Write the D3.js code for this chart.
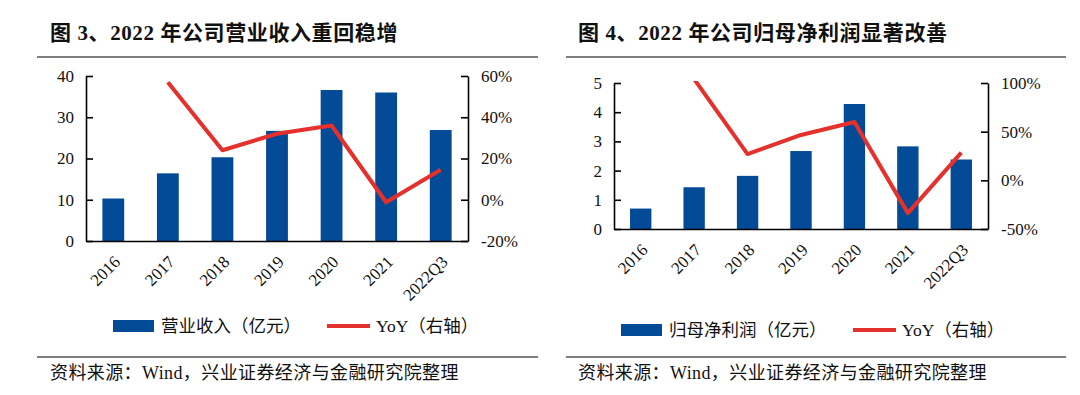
<!DOCTYPE html>
<html>
<head>
<meta charset="utf-8">
<script src="https://cdn.jsdelivr.net/npm/d3@7"></script>
<style>
  body { margin: 0; background: #fff; }
  svg text { fill: #111; }
</style>
</head>
<body>
<div id="chart"></div>
<script>
// data
const categories = ["2016", "2017", "2018", "2019", "2020", "2021", "2022Q3"];
const revenue = [10.3, 16.4, 20.3, 26.7, 36.6, 36.0, 26.9];
const revenueYoY = [null, 0.57, 0.24, 0.32, 0.36, -0.012, 0.145];
const profit = [0.7, 1.43, 1.82, 2.67, 4.28, 2.83, 2.38];
const profitYoY = [null, 1.04, 0.27, 0.466, 0.6, -0.337, 0.284];
const revenueTicks = [0, 10, 20, 30, 40];
const revenueYoYTicks = [-0.2, 0, 0.2, 0.4, 0.6];
const profitTicks = [0, 1, 2, 3, 4, 5];
const profitYoYTicks = [-0.5, 0, 0.5, 1.0];

const BLUE = "#034b96";
const RED = "#e5302c";
const LATIN = "'Liberation Serif', 'Times New Roman', serif";
const CJK = "'Liberation Serif', 'Noto Sans CJK SC', serif";

const svg = d3.select("#chart")
  .append("svg")
  .attr("width", 1080)
  .attr("height", 395);

function drawPanel(p) {
  const g = svg.append("g").attr("transform", `translate(${p.ox}, 0)`);

  // title + rules
  g.append("text")
    .attr("x", p.titleX).attr("y", 40)
    .attr("font-family", CJK).attr("font-weight", "bold")
    .attr("font-size", 21)
    .attr("letter-spacing", 0.6)
    .text(p.title);
  g.append("line")
    .attr("x1", p.ruleX1).attr("x2", p.ruleX2)
    .attr("y1", 57).attr("y2", 57)
    .attr("stroke", "#555").attr("stroke-width", 1.5);
  g.append("line")
    .attr("x1", p.ruleX1).attr("x2", p.ruleX2)
    .attr("y1", 357).attr("y2", 357)
    .attr("stroke", "#555").attr("stroke-width", 1.5);
  g.append("text")
    .attr("x", p.titleX).attr("y", 379)
    .attr("font-family", CJK).attr("font-size", 18)
    .attr("letter-spacing", 0.4)
    .text("资料来源：Wind，兴业证券经济与金融研究院整理");

  const x = d3.scaleBand()
    .domain(categories)
    .range([p.left, p.right])
    .paddingInner(0.6)
    .paddingOuter(0.3);
  const y = d3.scaleLinear().domain(p.yDomain).range([p.bottom, p.top]);
  const y2 = d3.scaleLinear().domain(p.y2Domain).range([p.bottom, p.top]);

  // bars
  g.selectAll("rect.bar")
    .data(p.bars)
    .enter()
    .append("rect")
    .attr("class", "bar")
    .attr("x", (d, i) => x(categories[i]))
    .attr("width", x.bandwidth())
    .attr("y", d => y(d))
    .attr("height", d => p.bottom - y(d))
    .attr("fill", BLUE);

  // axes
  const yAxis = d3.axisLeft(y)
    .tickValues(p.yTicks)
    .tickSizeInner(-7).tickSizeOuter(0).tickPadding(12)
    .tickFormat(d3.format("d"));
  const yAxisGroup = g.append("g")
    .attr("transform", `translate(${p.left}, 0)`)
    .call(yAxis);

  const y2Axis = d3.axisRight(y2)
    .tickValues(p.y2Ticks)
    .tickSizeInner(-7).tickSizeOuter(0).tickPadding(13)
    .tickFormat(d => Math.round(d * 100) + "%");
  const y2AxisGroup = g.append("g")
    .attr("transform", `translate(${p.right}, 0)`)
    .call(y2Axis);

  const xAxisGroup = g.append("g")
    .attr("transform", `translate(0, ${p.bottom})`)
    .call(d3.axisBottom(x).tickSize(0).tickSizeOuter(0));

  [yAxisGroup, y2AxisGroup, xAxisGroup].forEach(ax => {
    ax.selectAll("path, line").attr("stroke", "#000").attr("stroke-width", 1.6);
    ax.selectAll("text")
      .attr("font-family", LATIN)
      .attr("font-size", 17)
      .attr("fill", "#111");
  });

  xAxisGroup.selectAll("text")
    .attr("text-anchor", "end")
    .attr("dy", null)
    .attr("y", 0)
    .attr("transform", "translate(8, 22) rotate(-45)");

  // yoy line, clipped to plot area
  const clipId = "clip" + p.ox;
  g.append("clipPath").attr("id", clipId)
    .append("rect")
    .attr("x", p.left).attr("y", p.top - 2)
    .attr("width", p.right - p.left).attr("height", p.bottom - p.top + 2);

  const line = d3.line()
    .defined(d => d != null)
    .x((d, i) => x(categories[i]) + x.bandwidth() / 2)
    .y(d => y2(d));

  g.append("path")
    .datum(p.yoy)
    .attr("clip-path", `url(#${clipId})`)
    .attr("d", line)
    .attr("fill", "none")
    .attr("stroke", RED)
    .attr("stroke-width", 4)
    .attr("stroke-linejoin", "round");

  // legend
  const lg = g.append("g");
  lg.append("rect")
    .attr("x", p.legX).attr("y", p.legY - 6)
    .attr("width", 41).attr("height", 12)
    .attr("fill", BLUE);
  lg.append("text")
    .attr("x", p.legX + 48).attr("y", p.legY + 6)
    .attr("font-family", CJK).attr("font-size", 17.5)
    .text(p.barLabel);
  lg.append("line")
    .attr("x1", p.legX2).attr("x2", p.legX2 + 43)
    .attr("y1", p.legY).attr("y2", p.legY)
    .attr("stroke", RED).attr("stroke-width", 4);
  lg.append("text")
    .attr("x", p.legX2 + 49).attr("y", p.legY + 6)
    .attr("font-family", CJK).attr("font-size", 17.5)
    .text("YoY（右轴）");
}

drawPanel({
  ox: 0,
  title: "图 3、2022 年公司营业收入重回稳增",
  titleX: 50, ruleX1: 37, ruleX2: 538,
  left: 86, right: 468, top: 76, bottom: 241,
  yDomain: [0, 40], y2Domain: [-0.2, 0.6],
  yTicks: revenueTicks, y2Ticks: revenueYoYTicks,
  bars: revenue, yoy: revenueYoY,
  barLabel: "营业收入（亿元）",
  legX: 113, legY: 326, legX2: 327
});

drawPanel({
  ox: 540,
  title: "图 4、2022 年公司归母净利润显著改善",
  titleX: 38, ruleX1: 26, ruleX2: 526,
  left: 74, right: 448, top: 83, bottom: 229,
  yDomain: [0, 5], y2Domain: [-0.5, 1.0],
  yTicks: profitTicks, y2Ticks: profitYoYTicks,
  bars: profit, yoy: profitYoY,
  barLabel: "归母净利润（亿元）",
  legX: 81, legY: 330, legX2: 313
});
</script>
</body>
</html>
